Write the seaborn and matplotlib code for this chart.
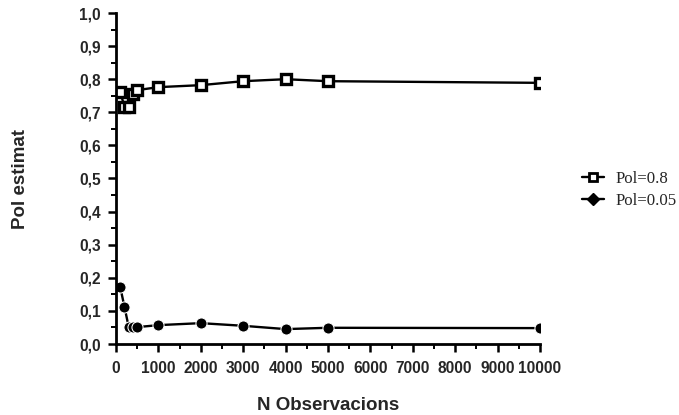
import matplotlib
matplotlib.use("Agg")
import matplotlib.pyplot as plt
import seaborn as sns
import pandas as pd
from matplotlib.ticker import MultipleLocator, FuncFormatter
from matplotlib.lines import Line2D

n_obs = [100, 200, 300, 400, 500, 1000, 2000, 3000, 4000, 5000, 10000]
pol_08 = [0.762, 0.716, 0.716, 0.755, 0.767, 0.776, 0.782, 0.794, 0.800, 0.794, 0.789]
pol_005 = [0.172, 0.112, 0.051, 0.051, 0.051, 0.057, 0.063, 0.055, 0.045, 0.049, 0.048]
series_names = ["Pol=0.8", "Pol=0.05"]

df = pd.DataFrame({
    "n": n_obs * 2,
    "val": pol_08 + pol_005,
    "serie": [series_names[0]] * len(n_obs) + [series_names[1]] * len(n_obs),
})

sns.set_style("white")
plt.rcParams["font.family"] = ["Liberation Sans", "DejaVu Sans"]

fig = plt.figure(figsize=(6.79, 4.15), dpi=100)
ax = fig.add_axes([116 / 679, 1 - 344 / 415, (540 - 116) / 679, (344 - 13) / 415])

sns.lineplot(data=df, x="n", y="val", hue="serie", style="serie",
             markers={"Pol=0.8": "s", "Pol=0.05": "o"}, dashes=False,
             palette={"Pol=0.8": "black", "Pol=0.05": "black"},
             linewidth=1.7, markersize=8, ax=ax, legend=False)
line08 = ax.lines[0]
line08.set_markerfacecolor("white")
line08.set_markeredgecolor("black")
line08.set_markeredgewidth(2.4)
line08.set_markersize(6.5)

ax.set_xlim(0, 10000)
ax.set_ylim(0, 1.0)
for s in ["top", "right"]:
    ax.spines[s].set_visible(False)
for s in ["left", "bottom"]:
    ax.spines[s].set_linewidth(2.0)
    ax.spines[s].set_color("black")

ax.xaxis.set_major_locator(MultipleLocator(1000))
ax.xaxis.set_minor_locator(MultipleLocator(500))
ax.yaxis.set_major_locator(MultipleLocator(0.1))
ax.yaxis.set_minor_locator(MultipleLocator(0.05))
ax.yaxis.set_major_formatter(FuncFormatter(lambda v, p: f"{v:.1f}".replace(".", ",")))
ax.xaxis.set_major_formatter(FuncFormatter(lambda v, p: f"{int(round(v))}"))
ax.tick_params(axis="both", which="major", direction="out", length=6, width=1.8,
               color="black", labelsize=11.2)
ax.tick_params(axis="x", which="major", pad=6)
ax.tick_params(axis="y", which="major", pad=5)
ax.tick_params(axis="both", which="minor", direction="out", length=3.5, width=1.4, color="black")
ax.tick_params(left=True, bottom=True, which="both")
for lab in ax.get_xticklabels() + ax.get_yticklabels():
    lab.set_fontweight("bold")

ax.set_xlabel("N Observacions", fontsize=13.5, fontweight="bold", labelpad=15)
ax.set_ylabel("Pol estimat", fontsize=13.5, fontweight="bold", labelpad=36)

handles = [
    Line2D([], [], color="black", marker="s", markerfacecolor="white", markeredgewidth=2.0,
           markersize=5.5, linewidth=1.7),
    Line2D([], [], color="black", marker="D", markerfacecolor="black", markersize=6,
           linewidth=1.7),
]
fig.legend(handles, series_names, loc="center left", bbox_to_anchor=(580 / 679, 1 - 190 / 415),
           frameon=False, handlelength=1.3, handletextpad=0.7, labelspacing=0.35,
           borderpad=0.1, borderaxespad=0.0,
           prop={"family": "Liberation Serif", "size": 12.2})

fig.savefig("out.png", dpi=100)
